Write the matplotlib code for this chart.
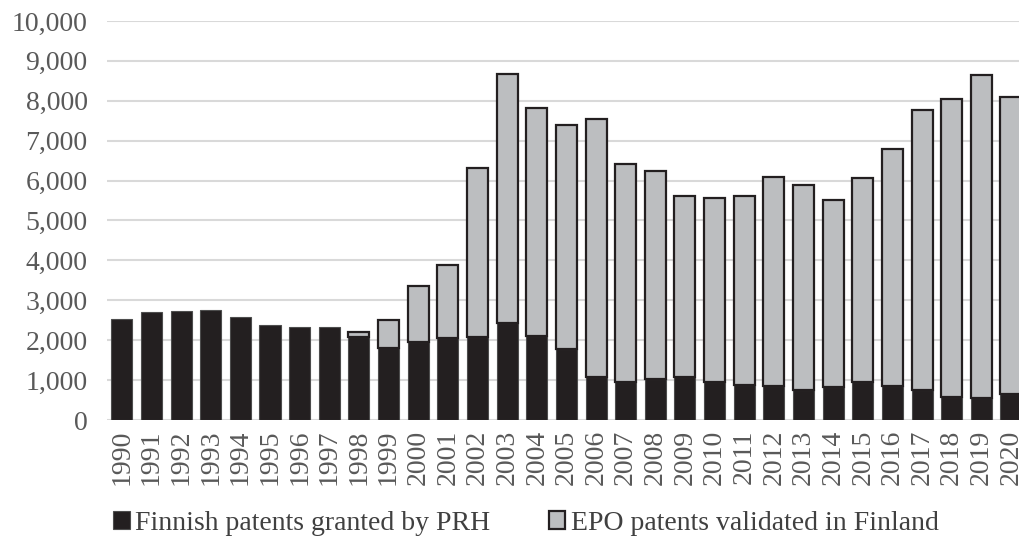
import numpy as np
import matplotlib
matplotlib.use("Agg")
import matplotlib.pyplot as plt
from matplotlib.ticker import FuncFormatter

years = [str(y) for y in range(1990, 2021)]
finnish = [2520, 2710, 2720, 2750, 2590, 2370, 2320, 2330, 2090, 1810,
           1960, 2060, 2080, 2440, 2100, 1790, 1090, 940, 1030, 1080,
           950, 870, 860, 740, 820, 960, 840, 740, 570, 540, 640]
epo = [0, 0, 0, 0, 0, 0, 0, 0, 120, 700,
       1400, 1820, 4240, 6230, 5730, 5600, 6450, 5470, 5220, 4530,
       4620, 4740, 5230, 5140, 4690, 5100, 5940, 7030, 7480, 8100, 7450]

DARK = "#231f20"
GREY = "#bcbec0"
TXT = "#595959"

plt.rcParams["font.family"] = ["Liberation Serif", "DejaVu Serif"]

fig = plt.figure(figsize=(10.19, 5.43), dpi=100)
ax = fig.add_axes([107 / 1019, 1 - 420 / 543, 1 - 107 / 1019, 399 / 543])

x = np.arange(len(years))
ax.bar(x, finnish, width=0.71, color=DARK, edgecolor="#4d4d4d", linewidth=0.8,
       label="Finnish patents granted by PRH", zorder=3)
epo_arr = np.array(epo)
mask = epo_arr > 0
ax.bar(x[mask], epo_arr[mask], bottom=np.array(finnish)[mask], width=0.71,
       color=GREY, edgecolor=DARK, linewidth=1.6,
       label="EPO patents validated in Finland", zorder=3)

ax.set_ylim(0, 10000)
ax.set_yticks(range(0, 10001, 1000))
ax.yaxis.set_major_formatter(FuncFormatter(lambda v, p: f"{int(v):,}"))
ax.set_xlim(-0.5, 30.27)
ax.set_xticks(x)
ax.set_xticklabels(years, rotation=90)
ax.grid(axis="y", color="#d9d9d9", linewidth=1.5, zorder=0)
for s in ax.spines.values():
    s.set_visible(False)
ax.tick_params(axis="both", length=0, labelsize=20, labelcolor=TXT)
ax.tick_params(axis="y", pad=14)
ax.tick_params(axis="x", pad=7)

fig.legend(loc="center", bbox_to_anchor=(526 / 1019, 1 - 523 / 543), ncol=2,
           frameon=False, fontsize=20, handlelength=0.6, handleheight=0.6,
           handletextpad=0.2, columnspacing=2.1, labelcolor="#404040")

fig.savefig("out.png", dpi=100)
